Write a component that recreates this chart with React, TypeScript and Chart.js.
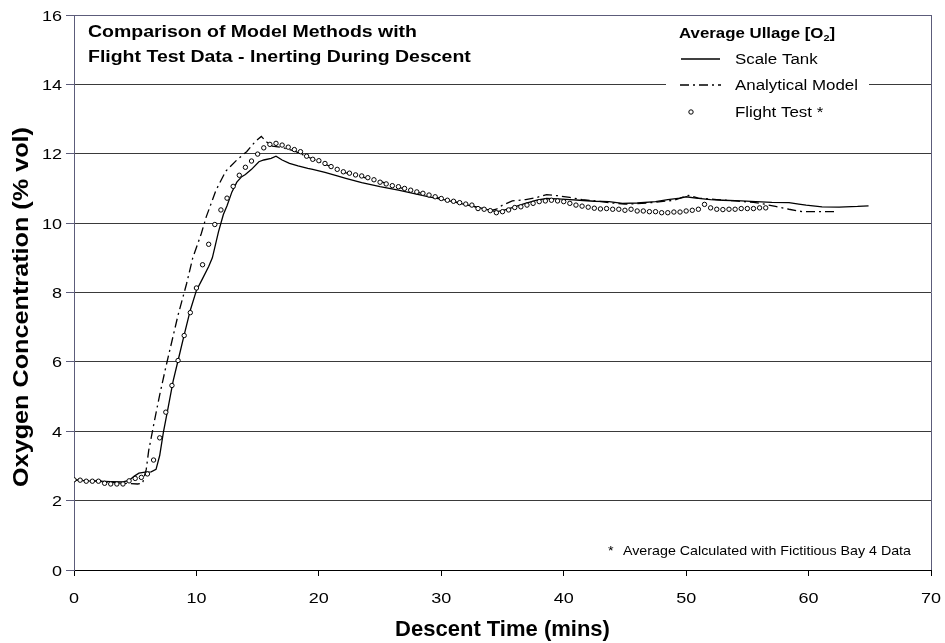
import React, { useEffect, useRef } from 'react';
import { Chart, registerables } from 'chart.js';

Chart.register(...registerables);

const FONT = '"Liberation Sans", Arial, Helvetica, sans-serif';
const BORDER = '#5c5c7a';
const GRID = '#3a3a3a';

// ---- data ----
const scaleTankTime = [0, 1, 2, 3, 4, 4.5, 4.9, 5.3, 5.8, 6.3, 6.7, 7.0, 7.3, 7.7, 8.1, 8.5, 9.0, 9.5, 10.0, 10.5, 11.0, 11.3, 11.8, 12.2, 12.5, 12.9, 13.3, 13.7, 14.0, 14.5, 15.1, 15.5, 16.1, 16.5, 17.0, 17.6, 18.3, 19.1, 19.5, 20.5, 21.5, 22.2, 23.5, 25.0, 26.5, 27.7, 29.0, 30.4, 31.8, 33.1, 34.0, 34.5, 35.0, 35.8, 36.8, 37.8, 38.6, 39.5, 40.5, 41.3, 42.5, 43.7, 44.8, 46.0, 47.5, 48.5, 49.5, 50.0, 50.8, 52.0, 53.0, 54.5, 55.7, 57.0, 58.4, 59.2, 59.8, 61.1, 62.5, 64.0, 64.9];
const scaleTankO2 = [2.60, 2.57, 2.56, 2.55, 2.54, 2.58, 2.70, 2.79, 2.82, 2.83, 2.90, 3.30, 3.97, 4.70, 5.45, 6.04, 6.78, 7.49, 8.06, 8.40, 8.75, 9.00, 9.75, 10.25, 10.50, 10.90, 11.18, 11.34, 11.40, 11.55, 11.77, 11.82, 11.87, 11.93, 11.82, 11.72, 11.65, 11.58, 11.55, 11.46, 11.36, 11.29, 11.17, 11.05, 10.95, 10.86, 10.76, 10.66, 10.55, 10.45, 10.37, 10.33, 10.36, 10.45, 10.56, 10.66, 10.71, 10.70, 10.68, 10.66, 10.63, 10.62, 10.57, 10.58, 10.62, 10.68, 10.72, 10.76, 10.72, 10.68, 10.66, 10.64, 10.62, 10.60, 10.59, 10.55, 10.52, 10.47, 10.46, 10.48, 10.50];

const analyticalTime = [0, 2, 4, 5.2, 5.6, 5.9, 6.1, 6.6, 7.0, 7.5, 7.9, 8.5, 9.2, 9.7, 10.4, 10.8, 11.6, 12.4, 13.3, 14.1, 14.8, 15.3, 15.7, 16.2, 17.0, 18.0, 19.0, 20.0, 21.0, 22.0, 23.0, 24.0, 24.7, 26.0, 27.5, 29.0, 30.5, 32.0, 33.0, 34.0, 34.5, 35.0, 35.8, 36.9, 37.8, 38.6, 39.5, 40.5, 41.5, 42.6, 44.0, 45.0, 46.0, 47.5, 49.0, 50.2, 51.0, 52.5, 54.0, 55.5, 56.5, 57.3, 58.4, 59.5, 61.0, 62.3];
const analyticalO2 = [2.60, 2.56, 2.50, 2.48, 2.50, 2.90, 3.44, 4.35, 5.05, 5.85, 6.45, 7.35, 8.26, 9.00, 9.70, 10.18, 10.95, 11.50, 11.82, 12.06, 12.35, 12.50, 12.35, 12.22, 12.18, 12.08, 11.92, 11.78, 11.62, 11.47, 11.37, 11.29, 11.24, 11.08, 10.94, 10.80, 10.66, 10.55, 10.45, 10.36, 10.40, 10.52, 10.64, 10.68, 10.74, 10.82, 10.79, 10.74, 10.68, 10.64, 10.58, 10.55, 10.56, 10.60, 10.66, 10.80, 10.72, 10.68, 10.64, 10.60, 10.54, 10.48, 10.40, 10.33, 10.33, 10.33];

const flightTestTime = [0, 0.5, 1, 1.5, 2, 2.5, 3, 3.5, 4, 4.5, 5, 5.5, 6, 6.5, 7, 7.5, 8, 8.5, 9, 9.5, 10, 10.5, 11, 11.5, 12, 12.5, 13, 13.5, 14, 14.5, 15, 15.5, 16, 16.5, 17, 17.5, 18, 18.5, 19, 19.5, 20, 20.5, 21, 21.5, 22, 22.5, 23, 23.5, 24, 24.5, 25, 25.5, 26, 26.5, 27, 27.5, 28, 28.5, 29, 29.5, 30, 30.5, 31, 31.5, 32, 32.5, 33, 33.5, 34, 34.5, 35, 35.5, 36, 36.5, 37, 37.5, 38, 38.5, 39, 39.5, 40, 40.5, 41, 41.5, 42, 42.5, 43, 43.5, 44, 44.5, 45, 45.5, 46, 46.5, 47, 47.5, 48, 48.5, 49, 49.5, 50, 50.5, 51, 51.5, 52, 52.5, 53, 53.5, 54, 54.5, 55, 55.5, 56, 56.5];
const flightTestO2 = [2.60, 2.59, 2.56, 2.56, 2.56, 2.50, 2.48, 2.48, 2.48, 2.57, 2.64, 2.67, 2.77, 3.17, 3.81, 4.55, 5.32, 6.04, 6.76, 7.42, 8.13, 8.80, 9.39, 9.96, 10.38, 10.72, 11.06, 11.38, 11.61, 11.79, 11.99, 12.17, 12.27, 12.30, 12.25, 12.19, 12.12, 12.06, 11.93, 11.84, 11.80, 11.72, 11.63, 11.55, 11.48, 11.44, 11.39, 11.36, 11.31, 11.25, 11.18, 11.13, 11.08, 11.05, 11.00, 10.95, 10.90, 10.86, 10.81, 10.76, 10.71, 10.66, 10.63, 10.59, 10.55, 10.52, 10.42, 10.40, 10.36, 10.30, 10.33, 10.38, 10.45, 10.47, 10.52, 10.57, 10.62, 10.64, 10.66, 10.64, 10.62, 10.57, 10.52, 10.49, 10.46, 10.43, 10.41, 10.42, 10.40, 10.40, 10.37, 10.40, 10.35, 10.35, 10.33, 10.33, 10.30, 10.30, 10.32, 10.32, 10.35, 10.37, 10.40, 10.54, 10.44, 10.40, 10.39, 10.40, 10.40, 10.42, 10.42, 10.42, 10.44, 10.44];

const xTickValues = [0, 10, 20, 30, 40, 50, 60, 70];
const yTickValues = [0, 2, 4, 6, 8, 10, 12, 14, 16];

const seriesNames = ['Scale Tank', 'Analytical Model', 'Flight Test *'];
const titleLines = ['Comparison of Model Methods with', 'Flight Test Data - Inerting During Descent'];
const legendTitleMain = 'Average Ullage [O';
const legendTitleSub = '2';
const legendTitleEnd = ']';
const footnoteStar = '*';
const footnoteText = 'Average Calculated with Fictitious Bay 4 Data';
const xAxisTitle = 'Descent Time (mins)';
const yAxisTitle = 'Oxygen Concentration (% vol)';

const toPoints = (xs: number[], ys: number[]) => xs.map((x, i) => ({ x, y: ys[i] }));

const DASH_DOT = [9, 4, 2, 4];
const TICK_STRETCH = 1.2;

// draw text horizontally stretched by factor sx (alignment handled by caller)
function drawStretched(ctx: CanvasRenderingContext2D, text: string, x: number, y: number, sx: number) {
  ctx.save();
  ctx.translate(x, y);
  ctx.scale(sx, 1);
  ctx.fillText(text, 0, 0);
  ctx.restore();
}

const overlayPlugin = {
  id: 'overlay',
  afterDraw(chart: any) {
    const ctx: CanvasRenderingContext2D = chart.ctx;
    const xs = chart.scales.x;
    const ys = chart.scales.y;
    ctx.save();
    ctx.fillStyle = '#000';
    ctx.textBaseline = 'alphabetic';

    // tick labels (positions from the chart's scales)
    ctx.font = `15px ${FONT}`;
    ctx.textAlign = 'center';
    xTickValues.forEach((v) => {
      drawStretched(ctx, String(v), xs.getPixelForValue(v), 603, TICK_STRETCH);
    });
    ctx.textAlign = 'right';
    yTickValues.forEach((v) => {
      drawStretched(ctx, String(v), 62, ys.getPixelForValue(v) + 5.5, TICK_STRETCH);
    });

    // axis titles
    ctx.font = `bold 22px ${FONT}`;
    ctx.textAlign = 'center';
    ctx.fillText(xAxisTitle, (chart.chartArea.left + chart.chartArea.right) / 2, 636);
    ctx.save();
    ctx.translate(28, 307);
    ctx.rotate(-Math.PI / 2);
    const yStretch = 360 / ctx.measureText(yAxisTitle).width;
    ctx.scale(yStretch, 1);
    ctx.fillText(yAxisTitle, 0, 0);
    ctx.restore();

    ctx.textAlign = 'left';
    // chart title
    ctx.font = `bold 16px ${FONT}`;
    const tStretch = 329 / ctx.measureText(titleLines[0]).width;
    drawStretched(ctx, titleLines[0], 88, 37, tStretch);
    drawStretched(ctx, titleLines[1], 88, 62, tStretch);

    // legend box
    ctx.fillStyle = '#fff';
    ctx.fillRect(666, 20, 203, 108);
    ctx.fillStyle = '#000';

    // legend title with subscript
    ctx.font = `bold 14px ${FONT}`;
    const wMain = ctx.measureText(legendTitleMain).width;
    const wEnd = ctx.measureText(legendTitleEnd).width;
    ctx.font = `bold 9px ${FONT}`;
    const wSub = ctx.measureText(legendTitleSub).width;
    const lStretch = 156 / (wMain + wSub + wEnd);
    let lx = 679;
    ctx.font = `bold 14px ${FONT}`;
    drawStretched(ctx, legendTitleMain, lx, 38, lStretch);
    lx += wMain * lStretch;
    ctx.font = `bold 9px ${FONT}`;
    drawStretched(ctx, legendTitleSub, lx, 41, lStretch);
    lx += wSub * lStretch;
    ctx.font = `bold 14px ${FONT}`;
    drawStretched(ctx, legendTitleEnd, lx, 38, lStretch);

    // legend rows
    const rows = [59, 85, 112];
    ctx.strokeStyle = '#000';
    ctx.lineWidth = 1.3;
    ctx.beginPath();
    ctx.moveTo(681, rows[0]);
    ctx.lineTo(720, rows[0]);
    ctx.stroke();
    ctx.setLineDash(DASH_DOT);
    ctx.beginPath();
    ctx.moveTo(680, rows[1]);
    ctx.lineTo(721, rows[1]);
    ctx.stroke();
    ctx.setLineDash([]);
    ctx.lineWidth = 1;
    ctx.beginPath();
    ctx.arc(691, rows[2], 2.2, 0, Math.PI * 2);
    ctx.fillStyle = '#fff';
    ctx.fill();
    ctx.stroke();
    ctx.fillStyle = '#000';
    ctx.font = `14px ${FONT}`;
    const iStretch = 123 / ctx.measureText(seriesNames[1]).width;
    seriesNames.forEach((name, i) => {
      drawStretched(ctx, name, 735, rows[i] + 5, iStretch);
    });

    // footnote
    ctx.font = `13px ${FONT}`;
    const fStretch = 288 / ctx.measureText(footnoteText).width;
    drawStretched(ctx, footnoteStar, 608, 555, fStretch);
    drawStretched(ctx, footnoteText, 623, 555, fStretch);
    ctx.restore();
  },
};

export default function App() {
  const canvasRef = useRef<HTMLCanvasElement | null>(null);

  useEffect(() => {
    document.body.style.margin = '0';
    const canvas = canvasRef.current;
    if (!canvas) return;
    const chart = new Chart(canvas, {
      type: 'scatter',
      data: {
        datasets: [
          {
            label: seriesNames[2],
            data: toPoints(flightTestTime, flightTestO2),
            showLine: false,
            pointRadius: 2.2,
            pointBorderWidth: 1,
            pointBackgroundColor: '#fff',
            pointBorderColor: '#000',
            order: 0,
          },
          {
            label: seriesNames[0],
            data: toPoints(scaleTankTime, scaleTankO2),
            showLine: true,
            borderColor: '#000',
            borderWidth: 1.3,
            pointRadius: 0,
            tension: 0,
            order: 2,
          },
          {
            label: seriesNames[1],
            data: toPoints(analyticalTime, analyticalO2),
            showLine: true,
            borderColor: '#000',
            borderWidth: 1.3,
            borderDash: DASH_DOT,
            pointRadius: 0,
            tension: 0,
            order: 1,
          },
        ],
      },
      options: {
        responsive: false,
        animation: false,
        devicePixelRatio: 1,
        layout: { padding: { top: 15, right: 14, left: 0, bottom: 0 } },
        plugins: {
          legend: { display: false },
          title: { display: false },
          tooltip: { enabled: false },
        },
        scales: {
          x: {
            type: 'linear',
            min: 0,
            max: 70,
            afterBuildTicks: (scale: any) => {
              scale.ticks = xTickValues.map((v) => ({ value: v }));
            },
            afterFit: (scale: any) => {
              scale.height = 73;
              scale.paddingLeft = 0;
              scale.paddingRight = 0;
            },
            ticks: { display: false },
            grid: {
              color: (c: any) => (c.tick && c.tick.value === 70 ? BORDER : 'rgba(0,0,0,0)'),
              tickColor: '#000',
              tickLength: 6,
              lineWidth: 1,
            },
            border: { color: '#000', width: 1 },
            title: { display: false, text: xAxisTitle },
          },
          y: {
            type: 'linear',
            min: 0,
            max: 16,
            afterBuildTicks: (scale: any) => {
              scale.ticks = yTickValues.map((v) => ({ value: v }));
            },
            afterFit: (scale: any) => {
              scale.width = 74;
              scale.paddingTop = 0;
              scale.paddingBottom = 0;
            },
            ticks: { display: false },
            grid: {
              color: (c: any) => {
                const v = c.tick && c.tick.value;
                if (v === 16) return BORDER;
                if (v === 0) return '#000';
                return GRID;
              },
              tickColor: BORDER,
              tickLength: 8,
              lineWidth: 1,
            },
            border: { color: BORDER, width: 1 },
            title: { display: false, text: yAxisTitle },
          },
        },
      },
      plugins: [overlayPlugin],
    } as any);
    return () => chart.destroy();
  }, []);

  return (
    <div style={{ width: 945, height: 643 }}>
      <canvas ref={canvasRef} width={945} height={643} />
    </div>
  );
}
